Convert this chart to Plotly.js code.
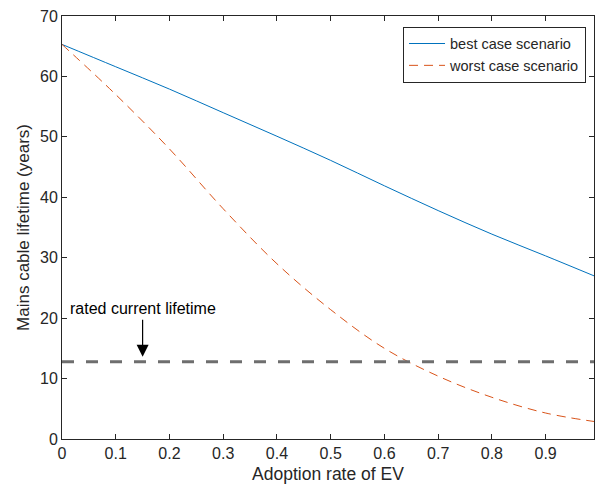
<!DOCTYPE html>
<html>
<head>
<meta charset="utf-8">
<script src="https://cdn.plot.ly/plotly-3.0.1.min.js"></script>
<style>html,body{margin:0;padding:0;background:#fff;}#chart{width:595px;height:491px;}</style>
</head>
<body>
<div id="chart"></div>
<script>
const adoption = [0, 0.1, 0.2, 0.3, 0.4, 0.5, 0.6, 0.7, 0.8, 0.9, 0.99];
const bestCase = [65.3, 61.6, 57.9, 54.0, 50.1, 46.1, 41.9, 37.8, 33.9, 30.3, 27.0];
const worstCase = [65.3, 57.0, 48.0, 38.1, 29.0, 21.4, 15.0, 10.4, 6.9, 4.3, 2.9];
const ratedX = [0, 0.99];
const ratedLifetime = [12.8, 12.8];
const seriesNames = ["best case scenario", "worst case scenario"];
const xTicks = [0, 0.1, 0.2, 0.3, 0.4, 0.5, 0.6, 0.7, 0.8, 0.9];
const yTicks = [0, 10, 20, 30, 40, 50, 60, 70];
const annotationText = "rated current lifetime";
const arrowX = 0.15, arrowTailY = 20.0, arrowHeadY = 13.6, labelY = 21.6;

const font = "Liberation Sans, Arial, sans-serif";
const axisColor = "#262626";

const traces = [
  {x: adoption, y: bestCase, name: seriesNames[0], mode: "lines",
   line: {color: "#0072BD", width: 1, shape: "spline"}},
  {x: adoption, y: worstCase, name: seriesNames[1], mode: "lines",
   line: {color: "#D95319", width: 1, dash: "9px,6px", shape: "spline"}},
  {x: ratedX, y: ratedLifetime, mode: "lines", showlegend: false, hoverinfo: "skip",
   line: {color: "#6e6e6e", width: 3, dash: "12px,12px"}}
];

const axisCommon = {
  showgrid: false, zeroline: false, showline: true, mirror: "ticks",
  linecolor: axisColor, linewidth: 1, ticks: "inside", ticklen: 5, tickwidth: 1,
  tickcolor: axisColor, tickfont: {family: font, size: 16, color: axisColor}
};

const layout = {
  width: 595, height: 491,
  margin: {l: 62, r: 1, t: 16, b: 52},
  paper_bgcolor: "#fff", plot_bgcolor: "#fff",
  font: {family: font, color: axisColor},
  xaxis: Object.assign({}, axisCommon, {
    range: [0, 0.99], tickvals: xTicks, ticktext: xTicks.map(String),
    title: {text: "Adoption rate of EV", font: {family: font, size: 17.5, color: axisColor}, standoff: 6}
  }),
  yaxis: Object.assign({}, axisCommon, {
    range: [0, 70], tickvals: yTicks, ticktext: yTicks.map(String),
    title: {text: "Mains cable lifetime (years)", font: {family: font, size: 17, color: axisColor}, standoff: 6}
  }),
  legend: {
    x: 0.985, y: 0.975, xanchor: "right", yanchor: "top",
    bgcolor: "#fff", bordercolor: axisColor, borderwidth: 1,
    font: {family: font, size: 14.5, color: axisColor},
    tracegroupgap: 0, itemwidth: 36
  },
  annotations: [
    {x: arrowX, y: labelY, xref: "x", yref: "y", text: annotationText, showarrow: false,
     font: {family: font, size: 16, color: "#000"}, xanchor: "center", yanchor: "middle"},
    {x: arrowX, y: arrowHeadY, ax: arrowX, ay: arrowTailY, axref: "x", ayref: "y",
     xref: "x", yref: "y", text: "", showarrow: true, arrowhead: 2, arrowsize: 2,
     arrowwidth: 1.2, arrowcolor: "#000"}
  ],
  showlegend: true
};

Plotly.newPlot("chart", traces, layout, {displayModeBar: false, staticPlot: true});
</script>
</body>
</html>
